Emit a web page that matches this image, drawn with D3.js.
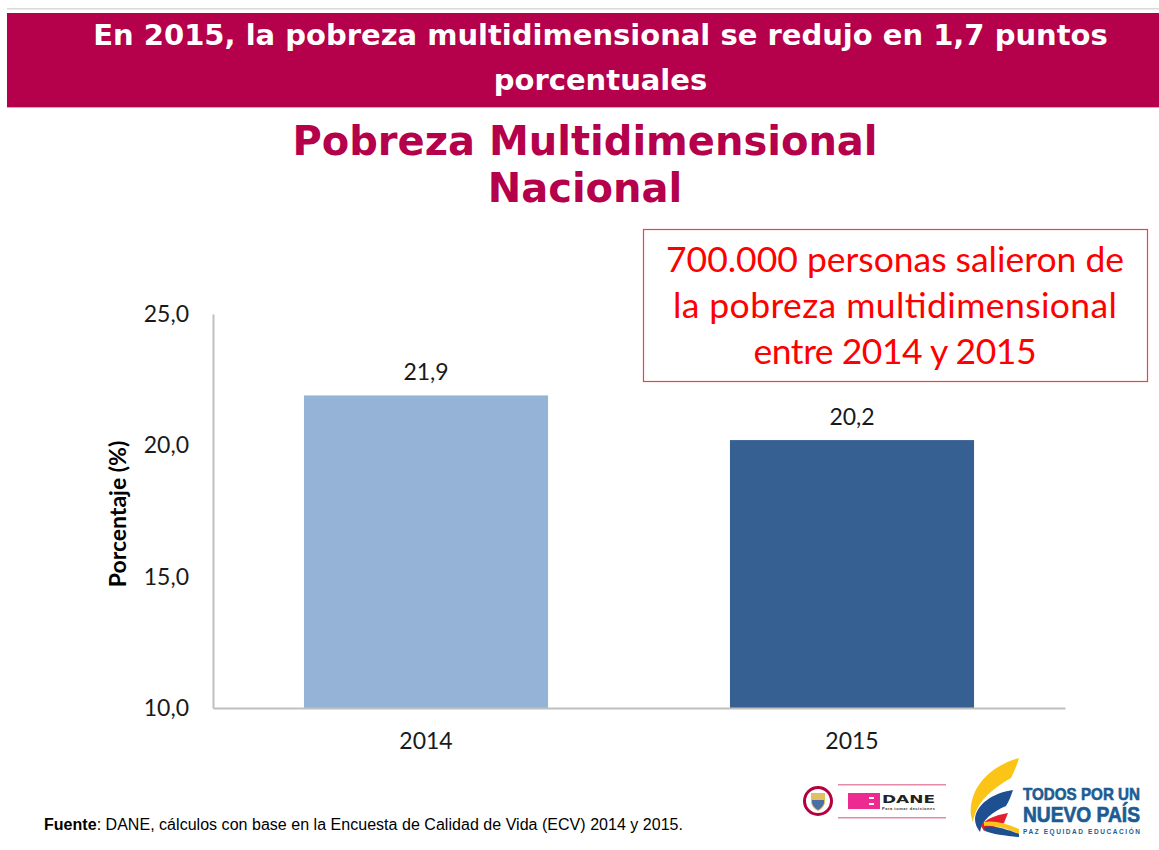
<!DOCTYPE html>
<html>
<head>
<meta charset="utf-8">
<script src="https://cdn.jsdelivr.net/npm/d3@7"></script>
<style>
  html, body { margin: 0; padding: 0; background: #fff; }
  svg { display: block; }
  .tick-label { font-family: Lato, "Open Sans", sans-serif; font-size: 23px; fill: #1a1a1a; }
</style>
</head>
<body>
<script>
var years = ['2014', '2015'];
var values = [21.9, 20.2];
var barColors = ['#95b3d7', '#376092'];
var yTicks = [10, 15, 20, 25];
var headerLines = ['En 2015, la pobreza multidimensional se redujo en 1,7 puntos', 'porcentuales'];
var titleLines = ['Pobreza Multidimensional', 'Nacional'];
var noteLines = ['700.000 personas salieron de', 'la pobreza multidimensional', 'entre 2014 y 2015'];

var width = 1159, height = 850;
var comma = function(v) { return v.toFixed(1).replace('.', ','); };

var svg = d3.select('body').append('svg')
  .attr('width', width)
  .attr('height', height);

// header band
svg.append('rect').attr('x', 7).attr('y', 8).attr('width', width - 7).attr('height', 1.5).attr('fill', '#d9d9d9');
svg.append('rect').attr('x', 7).attr('y', 13).attr('width', width - 7).attr('height', 94).attr('fill', '#b5004b');
svg.append('rect').attr('x', 7).attr('y', 107).attr('width', width - 7).attr('height', 1).attr('fill', '#e3a0bd');

svg.selectAll('text.header')
  .data(headerLines)
  .enter().append('text')
  .attr('class', 'header')
  .attr('x', 600.5)
  .attr('y', function(d, i) { return 45 + i * 45; })
  .attr('text-anchor', 'middle')
  .attr('font-family', '"DejaVu Sans", sans-serif')
  .attr('font-weight', 'bold')
  .attr('font-size', 29)
  .attr('fill', '#fff')
  .text(function(d) { return d; });

svg.selectAll('text.title')
  .data(titleLines)
  .enter().append('text')
  .attr('class', 'title')
  .attr('x', 585)
  .attr('y', function(d, i) { return 155 + i * 47; })
  .attr('text-anchor', 'middle')
  .attr('font-family', '"DejaVu Sans", sans-serif')
  .attr('font-weight', 'bold')
  .attr('font-size', 40)
  .attr('fill', '#b5004b')
  .text(function(d) { return d; });

// chart
var x = d3.scaleBand().domain(years).range([213, 1065]).paddingInner(0.427).paddingOuter(0.2135);
var y = d3.scaleLinear().domain([10, 25]).range([708, 314]);

svg.selectAll('rect.bar')
  .data(values)
  .enter().append('rect')
  .attr('class', 'bar')
  .attr('x', function(d, i) { return x(years[i]); })
  .attr('y', function(d) { return y(d); })
  .attr('width', x.bandwidth())
  .attr('height', function(d) { return y(10) - y(d); })
  .attr('fill', function(d, i) { return barColors[i]; });

svg.selectAll('text.value')
  .data(values)
  .enter().append('text')
  .attr('class', 'value tick-label')
  .attr('x', function(d, i) { return x(years[i]) + x.bandwidth() / 2; })
  .attr('y', function(d) { return y(d) - 15; })
  .attr('text-anchor', 'middle')
  .text(comma);

var yAxis = svg.append('g')
  .attr('transform', 'translate(213,0)')
  .call(d3.axisLeft(y).tickValues(yTicks).tickFormat(comma).tickSize(0).tickPadding(24));
yAxis.select('.domain').attr('stroke', '#bfbfbf').attr('stroke-width', 2);
yAxis.selectAll('text').attr('class', 'tick-label').attr('fill', null);

var xAxis = svg.append('g')
  .attr('transform', 'translate(0,708)')
  .call(d3.axisBottom(x).tickSize(0).tickPadding(25));
xAxis.select('.domain').attr('stroke', '#bfbfbf').attr('stroke-width', 2);
xAxis.selectAll('text').attr('class', 'tick-label').attr('fill', null);

svg.append('text')
  .attr('transform', 'translate(126,514) rotate(-90)')
  .attr('text-anchor', 'middle')
  .attr('font-family', 'Lato, "Open Sans", sans-serif')
  .attr('font-weight', 'bold')
  .attr('font-size', 23)
  .attr('fill', '#000')
  .text('Porcentaje (%)');

// red note box
svg.append('rect')
  .attr('x', 643.5).attr('y', 229.5)
  .attr('width', 504).attr('height', 152)
  .attr('fill', '#fff')
  .attr('stroke', '#ff3b3b')
  .attr('stroke-width', 1.2);

// Lato runs a bit narrower than the original font, so stretch each line to the measured width
var noteWidths = [458, 444, 283];
svg.selectAll('text.note')
  .data(noteLines)
  .enter().append('text')
  .attr('class', 'note')
  .attr('x', 895)
  .attr('y', function(d, i) { return 272 + i * 46; })
  .attr('text-anchor', 'middle')
  .attr('font-family', 'Lato, "Open Sans", sans-serif')
  .attr('font-size', 35.5)
  .attr('fill', '#ff0000')
  .attr('textLength', function(d, i) { return noteWidths[i]; })
  .text(function(d) { return d; });

// source line
var source = svg.append('text')
  .attr('x', 44).attr('y', 830)
  .attr('font-family', '"Liberation Sans", Arial, sans-serif')
  .attr('font-size', 16)
  .attr('textLength', 639)
  .attr('fill', '#000');
source.append('tspan').attr('font-weight', 'bold').text('Fuente');
source.append('tspan').text(': DANE, cálculos con base en la Encuesta de Calidad de Vida (ECV) 2014 y 2015.');

// DANE logo
var dane = svg.append('g');
dane.append('circle').attr('cx', 818).attr('cy', 801).attr('r', 13.5).attr('fill', '#fff').attr('stroke', '#b5003f').attr('stroke-width', 3);
dane.append('path').attr('d', 'M811 793h14v10q-2 6-7 8q-5-2-7-8z').attr('fill', '#e0c060');
dane.append('path').attr('d', 'M812 800h12v3q-1 4-6 7q-5-3-6-7z').attr('fill', '#4a6fa5');
dane.append('rect').attr('x', 838).attr('y', 784).attr('width', 108).attr('height', 1.5).attr('fill', '#e58aa8');
dane.append('rect').attr('x', 838).attr('y', 817).attr('width', 108).attr('height', 1.5).attr('fill', '#e58aa8');
dane.append('rect').attr('x', 848).attr('y', 793).attr('width', 32).attr('height', 16).attr('fill', '#ec2a8f');
dane.append('rect').attr('x', 869).attr('y', 797).attr('width', 5).attr('height', 2).attr('fill', '#fff');
dane.append('rect').attr('x', 869).attr('y', 803).attr('width', 5).attr('height', 2).attr('fill', '#fff');
dane.append('text').attr('x', 882).attr('y', 803)
  .attr('font-family', '"DejaVu Sans", sans-serif').attr('font-weight', 'bold').attr('font-size', 10.5)
  .attr('textLength', 53).attr('lengthAdjust', 'spacingAndGlyphs').attr('fill', '#222').text('DANE');
dane.append('text').attr('x', 882).attr('y', 809.5)
  .attr('font-family', '"Liberation Sans", sans-serif').attr('font-weight', 'bold').attr('font-size', 4)
  .attr('textLength', 53).attr('fill', '#333').text('Para tomar decisiones');

// Todos por un nuevo pais logo
var tpnp = svg.append('g');
tpnp.append('path').attr('d', 'M1019 758C994 765 974 782 971 806C970 812 971 817 973 822C976 803 990 790 1011 778C1014 772 1017 765 1019 758Z').attr('fill', '#fbc417');
tpnp.append('path').attr('d', 'M1013 790C992 793 976 805 975 819C975 824 977 828 980 832C982 820 992 812 1006 806C1009 801 1011 796 1013 790Z').attr('fill', '#1d4f91');
tpnp.append('path').attr('d', 'M1008 813C995 815 984 820 981 826L984 831C992 827 1000 825 1004 823Z').attr('fill', '#e5202e');
tpnp.append('path').attr('d', 'M984 822C994 820 1008 824 1019 829V834C1006 828 994 825 984 826Z').attr('fill', '#fbc417');
tpnp.append('path').attr('d', 'M984 827C994 825 1006 829 1019 834V837C1006 836 992 834 985 831Z').attr('fill', '#1d4f91');

var blueFont = '"Liberation Sans", sans-serif';
tpnp.append('text').attr('x', 1023).attr('y', 800)
  .attr('font-family', blueFont).attr('font-weight', 'bold').attr('font-size', 17)
  .attr('stroke', '#1d5c93').attr('stroke-width', 0.6)
  .attr('textLength', 117).attr('lengthAdjust', 'spacingAndGlyphs').attr('fill', '#1d5c93').text('TODOS POR UN');
tpnp.append('text').attr('x', 1023).attr('y', 822)
  .attr('font-family', blueFont).attr('font-weight', 'bold').attr('font-size', 22)
  .attr('stroke', '#1d5c93').attr('stroke-width', 0.7)
  .attr('textLength', 117).attr('lengthAdjust', 'spacingAndGlyphs').attr('fill', '#1d5c93').text('NUEVO PAÍS');
tpnp.append('text').attr('x', 1023).attr('y', 834)
  .attr('font-family', blueFont).attr('font-weight', 'bold').attr('font-size', 6.5)
  .attr('textLength', 117).attr('fill', '#1d5c93').text('PAZ  EQUIDAD  EDUCACIÓN');
</script>
</body>
</html>
